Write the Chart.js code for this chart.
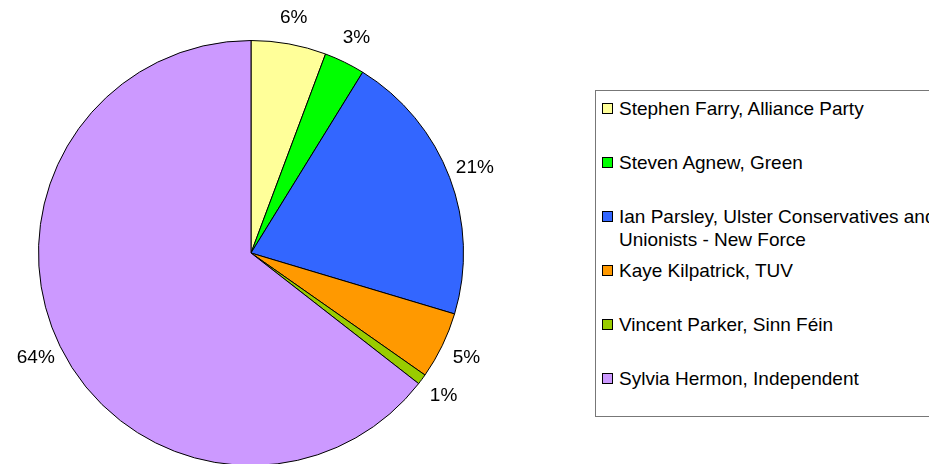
<!DOCTYPE html>
<html>
<head>
<meta charset="utf-8">
<script src="https://cdn.jsdelivr.net/npm/chart.js@4/dist/chart.umd.min.js"></script>
<style>
  html, body { margin: 0; padding: 0; background: #fff; overflow: hidden; width: 929px; height: 464px; }
  body { position: relative; font-family: "Liberation Sans", Arial, sans-serif; }
  #pie { position: absolute; left: 0; top: 0; }
  #legend {
    position: absolute; left: 595px; top: 90px; width: 420px; height: 327px;
    border: 1px solid #777; box-sizing: border-box;
  }
  .item { position: absolute; left: 6px; width: 345px; font-size: 19px; line-height: 23px; color: #000; }
  .swatch { position: absolute; left: 0; top: 6px; width: 9px; height: 9px; border: 1px solid #000; }
  .text { margin-left: 17px; }
</style>
</head>
<body>
<canvas id="pie" width="502" height="470"></canvas>
<div id="legend"></div>
<script>
// North Down vote shares (percent)
const candidates = [
  "Stephen Farry, Alliance Party",
  "Steven Agnew, Green",
  "Ian Parsley, Ulster Conservatives and Unionists - New Force",
  "Kaye Kilpatrick, TUV",
  "Vincent Parker, Sinn Féin",
  "Sylvia Hermon, Independent"
];
const shares = [5.7, 3.1, 20.8, 5.1, 0.8, 64.4];
const sliceColors = ["#FFFF99", "#00FF00", "#3366FF", "#FF9900", "#99CC00", "#CC99FF"];

// percent labels just outside each slice
const pctLabels = {
  id: "pctLabels",
  afterDatasetsDraw(chart) {
    const ctx = chart.ctx;
    const meta = chart.getDatasetMeta(0);
    const data = chart.data.datasets[0].data;
    const total = data.reduce((a, b) => a + b, 0);
    ctx.save();
    ctx.font = "19px 'Liberation Sans', Arial, sans-serif";
    ctx.fillStyle = "#000";
    ctx.textAlign = "center";
    ctx.textBaseline = "middle";
    meta.data.forEach((arc, i) => {
      const p = arc.getProps(["x", "y", "startAngle", "endAngle", "outerRadius"], true);
      const mid = (p.startAngle + p.endAngle) / 2;
      const r = p.outerRadius + 27;
      const txt = Math.round(data[i] / total * 100) + "%";
      ctx.fillText(txt, p.x + Math.cos(mid) * r, p.y + Math.sin(mid) * r);
    });
    ctx.restore();
  }
};

const ctx = document.getElementById("pie").getContext("2d");
const pieChart = new Chart(ctx, {
  type: "pie",
  data: {
    labels: candidates,
    datasets: [{
      data: shares,
      backgroundColor: sliceColors,
      borderColor: "#000",
      borderWidth: 1
    }]
  },
  options: {
    responsive: false,
    animation: false,
    layout: { padding: { top: 40, bottom: 4, left: 38, right: 38 } },
    plugins: {
      legend: { display: false },
      tooltip: { enabled: false }
    }
  },
  plugins: [pctLabels]
});

// legend box (entries in fixed slots like the original)
const legendDiv = document.getElementById("legend");
candidates.forEach((name, i) => {
  const item = document.createElement("div");
  item.className = "item";
  item.style.top = (6 + i * 54) + "px";
  const sw = document.createElement("div");
  sw.className = "swatch";
  sw.style.backgroundColor = sliceColors[i];
  const t = document.createElement("div");
  t.className = "text";
  t.textContent = name;
  item.appendChild(sw);
  item.appendChild(t);
  legendDiv.appendChild(item);
});
</script>
</body>
</html>
